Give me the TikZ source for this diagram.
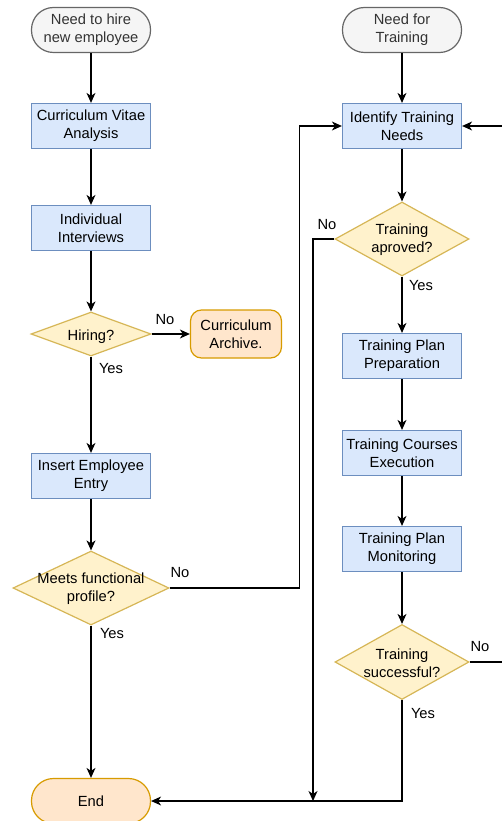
\documentclass[tikz,border=0pt]{standalone}
\usepackage{fontspec}
\setmainfont{Liberation Sans}
\usetikzlibrary{shapes.geometric,arrows.meta}

\definecolor{procfill}{HTML}{DAE8FC}
\definecolor{procline}{HTML}{6C8EBF}
\definecolor{decfill}{HTML}{FFF2CC}
\definecolor{decline}{HTML}{D6B656}
\definecolor{termfill}{HTML}{FFE6CC}
\definecolor{termline}{HTML}{D79B00}
\definecolor{startfill}{HTML}{F5F5F5}
\definecolor{startline}{HTML}{666666}
\definecolor{starttext}{HTML}{333333}

\tikzset{
  base/.style={font=\fontsize{14.7}{17.7}\selectfont, align=center, inner sep=0pt, line width=1.2pt},
  procbox/.style={base, rectangle, draw=procline, fill=procfill, minimum width=119pt, minimum height=45pt},
  startbox/.style={base, rectangle, rounded corners=22pt, draw=startline, fill=startfill, text=starttext, minimum width=119pt, minimum height=45pt},
  endbox/.style={base, rectangle, rounded corners=22pt, draw=termline, fill=termfill, minimum width=119pt, minimum height=45pt},
  archbox/.style={base, rectangle, rounded corners=11pt, draw=termline, fill=termfill, minimum width=91pt, minimum height=48pt},
  decbox/.style={base, diamond, draw=decline, fill=decfill},
  dectext/.style={base},
  lbl/.style={font=\fontsize{14.7}{17.7}\selectfont, inner sep=0pt},
  arr/.style={line width=1.2pt, -{Stealth[length=10pt, width=9pt, inset=3pt]}},
  ln/.style={line width=1.2pt}
}

\begin{document}
\begin{tikzpicture}[x=1pt, y=-1pt]
\useasboundingbox (0,0) rectangle (501,821);

% hiring column
\node[startbox] (s1) at (91,30) {Need to hire\\new employee};
\node[procbox] (cv) at (91,126) {Curriculum Vitae\\Analysis};
\node[procbox] (ii) at (91,228) {Individual\\Interviews};
\node[decbox, minimum width=120pt, minimum height=44pt] (hir) at (91,334) {};
\node[dectext, text depth=0pt] (hirt) at (91,335) {Hiring?};
\node[archbox] (arch) at (236,334) {Curriculum\\Archive.};
\node[procbox] (iee) at (91,476) {Insert Employee\\Entry};
\node[decbox, minimum width=156pt, minimum height=74pt] (mfp) at (91,588) {};
\node[dectext] (mfpt) at (91,589) {Meets functional\\profile?};
\node[endbox] (end) at (91,801) {End};

% training column
\node[startbox] (s2) at (402,30) {Need for\\Training};
\node[procbox] (itn) at (402,126) {Identify Training\\Needs};
\node[decbox, minimum width=134pt, minimum height=74pt] (ta) at (402,239) {};
\node[dectext] (tat) at (402,240) {Training\\aproved?};
\node[procbox] (tpp) at (402,356) {Training Plan\\Preparation};
\node[procbox] (tce) at (402,453) {Training Courses\\Execution};
\node[procbox] (tpm) at (402,549) {Training Plan\\Monitoring};
\node[decbox, minimum width=134pt, minimum height=75pt] (ts) at (402,662) {};
\node[dectext] (tst) at (402,663) {Training\\successful?};

% junction points
\coordinate (join) at (313,801);
\coordinate (loop) at (520,662);

% hiring flow
\draw[arr] (s1) -- (cv);
\draw[arr] (cv) -- (ii);
\draw[arr] (ii) -- (hir.north);
\draw[arr] (hir.east) -- (arch.west);
\draw[arr] (hir.south) -- (iee.north);
\draw[arr] (iee) -- (mfp.north);
\draw[arr] (mfp.south) -- (end.north);
\draw[arr] (mfp.east) -- ++(130,0) |- (itn.west);

% training flow
\draw[arr] (s2) -- (itn);
\draw[arr] (itn) -- (ta.north);
\draw[arr] (ta.south) -- (tpp.north);
\draw[arr] (ta.west) -| (join);
\draw[arr] (tpp) -- (tce);
\draw[arr] (tce) -- (tpm);
\draw[arr] (tpm) -- (ts.north);
\draw[arr] (ts.south) |- (end.east);
\draw[arr] (ts.east) -- (loop) |- (itn.east);

% branch labels
\node[lbl] (l1) at (165,320) {No};
\node[lbl] (l2) at (111,369) {Yes};
\node[lbl] (l3) at (180,573) {No};
\node[lbl] (l4) at (112,634) {Yes};
\node[lbl] (l5) at (327,225) {No};
\node[lbl] (l6) at (421,286) {Yes};
\node[lbl] (l7) at (480,647) {No};
\node[lbl] (l8) at (423,714) {Yes};
\end{tikzpicture}
\end{document}
